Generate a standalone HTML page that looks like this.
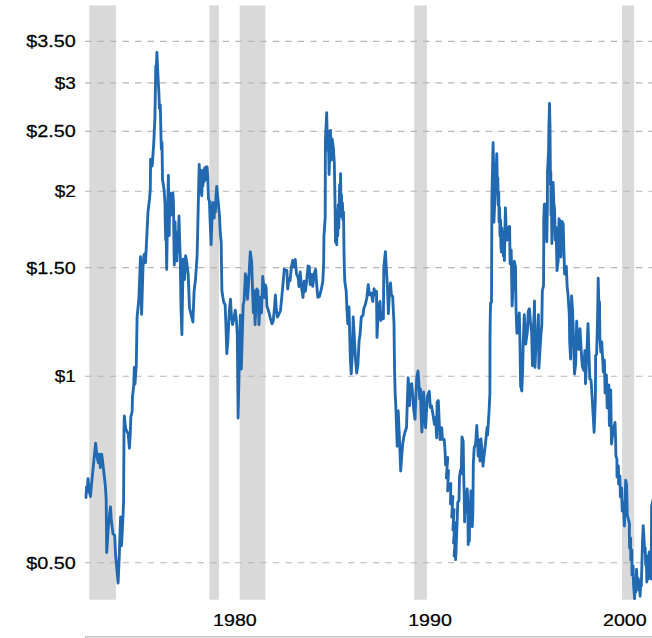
<!DOCTYPE html>
<html><head><meta charset="utf-8"><title>Chart</title>
<style>
html,body{margin:0;padding:0;background:#fff;}
body{width:652px;height:638px;overflow:hidden;font-family:"Liberation Sans",sans-serif;}
svg{display:block;}
</style></head><body>
<svg width="652" height="638" viewBox="0 0 652 638">
<rect x="0" y="0" width="652" height="638" fill="#ffffff"/>
<rect x="89.3" y="5.4" width="26.6" height="594.3" fill="#d9d9d9"/>
<rect x="209.4" y="5.4" width="9.6" height="594.3" fill="#d9d9d9"/>
<rect x="239.7" y="5.4" width="25.7" height="594.3" fill="#d9d9d9"/>
<rect x="414.2" y="5.4" width="12.8" height="594.3" fill="#d9d9d9"/>
<rect x="622.1" y="5.4" width="12.1" height="594.3" fill="#d9d9d9"/>
<line x1="85" y1="41.4" x2="652" y2="41.4" stroke="#b6b6b6" stroke-width="1.1" stroke-dasharray="6.4 6.12"/>
<line x1="85" y1="82.9" x2="652" y2="82.9" stroke="#b6b6b6" stroke-width="1.1" stroke-dasharray="6.4 6.12"/>
<line x1="85" y1="131.4" x2="652" y2="131.4" stroke="#b6b6b6" stroke-width="1.1" stroke-dasharray="6.4 6.12"/>
<line x1="85" y1="191.3" x2="652" y2="191.3" stroke="#b6b6b6" stroke-width="1.1" stroke-dasharray="6.4 6.12"/>
<line x1="85" y1="267.6" x2="652" y2="267.6" stroke="#b6b6b6" stroke-width="1.1" stroke-dasharray="6.4 6.12"/>
<line x1="85" y1="376.3" x2="652" y2="376.3" stroke="#b6b6b6" stroke-width="1.1" stroke-dasharray="6.4 6.12"/>
<line x1="85" y1="562.7" x2="652" y2="562.7" stroke="#b6b6b6" stroke-width="1.1" stroke-dasharray="6.4 6.12"/>
<polyline fill="none" stroke="#2169b1" stroke-width="2.85" stroke-linejoin="round" stroke-linecap="round" points="86.0,497.5 86.5,487 87.2,492 88,478.7 89.3,491.5 90.5,496.5 91.5,484.6 93.5,464.3 95.6,443.1 96.9,455.8 98.3,462.6 99,454.1 100.3,467.7 101.7,454.1 102.8,462.6 103.7,471 105.4,486.3 106.2,500 106.7,552.5 108.4,525.4 110.5,506.8 111.3,520.3 113,533.8 114.7,535.5 115.5,554 118.1,583 119.3,555.8 119.8,539 120.6,517 121.5,545.7 123.0,517 123.6,500 124,430 124.3,416 125.7,428.8 128.2,433.8 129.4,448.2 130.3,433.8 130.8,417 132.1,411.8 132.5,396.4 133.7,386.3 134.3,367.5 135,384 136.3,365 137.1,317 138.8,300 140.5,256.7 141.6,314.4 143.0,267.7 143.8,255.8 144.7,254 145.5,262.6 148,211.8 149.4,200 150.3,189.8 150.6,159.3 152.2,166 153.8,142.4 154.9,118 155.4,89 155.8,66 156.4,67 156.9,52.3 158,76.8 159.0,95.2 159.4,108.5 160.3,105 160.8,128.8 161.3,149 162,142.4 162.5,179.6 164.1,189.8 165,203 165.2,220.3 165.7,240 166.1,228 166.7,269.4 167.2,235 167.6,217 168.0,195 168.4,175.4 168.8,210 169.2,235.5 169.6,205 170.3,193 171.0,215 171.6,196 172.3,212 172.9,193 173.5,203 173.9,240 174.3,265 174.7,236 175.1,222 175.6,246 176.2,232 176.8,261 177.4,240 178.0,252 179,216 179.6,240 180.2,255.8 181,308 181.9,334.7 183.1,259.2 184.5,279.5 185.6,255.8 187,264.3 188.2,274.5 189.5,308 192.9,322 194.1,291.4 195.5,279.5 197.1,255.8 198.0,217.7 198.4,199 199.2,164.4 199.9,182 200.5,170 201.0,190 201.8,195.7 202.3,176 202.9,186 203.5,170 204.0,182 204.6,168 205.2,180 205.8,167 206.5,178 207.1,167 207.7,176 208.5,199 209.4,200.8 210.2,222.8 211.1,244.8 211.9,221 212.6,202.5 213.1,216 213.6,204 214.2,218 214.8,203 215.4,212 216.0,196 216.7,186.4 217.8,197.4 219.5,216 220.4,234.6 221.2,242.2 221.5,265.4 221.9,290.8 222.9,297.5 223.8,302.6 225.1,304.3 225.8,321.2 226.8,353.7 227.8,342 228.8,321.2 229.6,307.7 230.5,299.2 231.4,316.1 232.6,324.6 233.6,319.5 235.3,310.2 236.5,321.2 237.3,334.8 238.1,418 240.3,315.3 241.3,369 243.2,304.3 244.1,301 245.4,273.8 246.6,279 247.5,299.2 248.3,287.4 249.1,273.8 250.3,251.8 251.7,262 252.5,289 253.4,312.8 254.2,290.8 255.1,324.6 255.9,307.7 256.8,289 257.9,290.8 259,324.6 260.1,297.5 261.5,312.8 262.7,276.4 263.5,284 264.4,297.5 265.2,284.8 266.1,287.4 266.9,306 268.6,311 270.3,317.8 272,323.8 273.2,321.2 274.5,307.7 275.4,295 276.2,307.7 277.4,317 278.8,314.5 280.4,311 281.6,299.2 283,284 284.3,268.8 285.5,270.5 286.9,270.5 287.7,289 288.9,279 290.1,280.6 291.4,267 292.8,260.3 294,267 295.3,259.5 296.5,273.8 298.2,278 299,286.5 300.2,272 301.6,288 303,297.3 304.2,281.2 305.4,291.4 306.8,279.5 308.1,266 309.3,266.8 310.2,284.6 311.8,274.5 312.7,286.3 314.4,272.8 315.6,269.4 316.4,281.2 317.8,297.3 319.5,296.4 321.2,289.7 322.8,281.2 323.7,262.6 323.9,237.2 325.2,217 325.4,140.6 326.7,112.7 327.5,150 328.3,131 329.1,174.5 330.5,130.5 331.3,160 332.1,139 333.3,147.4 334.3,162.6 335,199.8 335.3,225 335.5,242.3 336.1,215 336.7,244.8 337.2,210 337.7,236 338.3,205 338.8,228 339.3,200 339.6,184.6 340.1,205 340.6,173.6 341.0,210 341.5,194.8 341.8,217 342.4,203 343.0,220 343.5,212 344,250.8 344.3,267.7 344.8,281.2 346.2,291.4 346.9,308.6 347.8,323.8 349,307 350.3,357.7 351.2,373.8 352.3,354.3 353.2,317 354.5,340.8 355.4,357.7 356.7,373 357.9,364.5 359.1,340.8 360.1,334 361.3,317 363,315.4 363.8,308.6 365.5,304 366.8,298 368.2,284.6 369.4,294.8 371.1,293 372.8,301.5 374.1,288.8 375.3,294.8 376.5,291.4 377,337.4 378.2,312 379.1,305.2 380.0,301.5 380.8,320.5 382.5,312 383.4,318.8 383.8,267.7 385.4,251.6 386.3,267.7 387.1,281.2 388,301.5 388.4,313.7 389.2,298 390.5,283 391.4,294.8 392.7,296.4 393.3,310 394,323.8 394.3,349.2 394.6,371.2 395.1,391.5 396,410.8 397.2,446.3 398.2,410.8 399.5,440 400.7,471 401.8,455 402.8,443 404,436 405.3,431 406.5,427.7 407.3,402.3 408.2,377.8 409.5,405.7 410.4,385.4 411.7,383.7 412.6,393.8 413.8,410.8 415,419.2 416,393.8 416.8,377 418,371 418.8,382 419.7,399 420.5,389 421,410.8 421.9,432 423.1,410.8 423.6,392 424.4,410.8 425.6,427.7 426.5,410.8 427.3,396.4 429.3,391.3 430.3,407.4 431.5,405.7 433.2,415.8 434.4,424.3 435.8,417.5 436.6,437.8 437.1,402.3 438.3,400.6 439.1,419.2 440,439.5 441.7,427.7 442.5,439.5 444.2,439.5 445.1,451.4 445.6,465.0 447.8,457.5 446.3,478.0 448.5,470.5 447.6,491.0 450.8,483.5 450.5,504.0 452.9,496.5 451.7,517.0 454.1,509.5 452.9,530.0 455.0,522.5 453.5,543.0 455.6,535.5 454.1,556.0 456.2,548.5 455.6,559.6 456.9,527.7 457.8,502.3 459,500.6 459.5,477 460.6,470 461.2,473.5 462,437 463.2,441.3 463.6,471.8 464.2,493.8 464.6,521.8 465.2,500 465.6,512 466.1,492 466.7,506 467.2,489 467.8,500 468.2,544.6 468.8,520 469.3,541.2 469.8,510 470.3,524.3 470.9,491 471.4,515 471.8,500 472.3,526.8 472.9,509 473.3,464.4 474.2,447.7 475.6,444 476.8,425.5 477.4,438.5 478.2,456 479,440 480,461 481,439 482,452 483,466.2 483.9,457 485.7,441.3 487.1,427.4 487.6,434.8 489,412 489.9,393.8 490.0,337 490.3,314.6 490.6,302.8 491.5,302.5 491.8,230 491.9,197.7 492.6,165 493.1,142.7 493.6,167.2 493.9,222.2 496.8,153.7 497.4,190 497.8,178 498.2,205 498.7,192 499.1,222 499.6,208 500.0,236 500.5,220 500.9,246 501.4,252 501.9,228 502.4,250 502.9,232 503.4,256 503.9,240 504.4,260.5 505.4,207.8 506.2,231.5 507.1,240 507.9,228 509.6,226.4 510.1,263.8 511.2,250 512.1,306 513.3,280.8 514.3,261.3 515.5,267.2 516,307.8 516.9,333.2 518.1,331.5 519.3,313 520,345 520.6,386 521.8,391 522.6,370.8 523.3,340 524.3,314.6 525.7,344 527.4,331.5 528.3,311 529.4,308.7 530.4,321.4 531.6,331.5 532.5,365.7 533.5,330 534.5,301 535,367.4 536,345 536.7,338 537.5,331.5 538.4,314.6 538.9,368.2 540,350 540.9,335 541.8,324.8 542.3,291 543.5,285.8 543.8,238 543.7,221.4 544.3,204.5 545,204 545.6,236 546.2,215 546.8,241.8 547.4,205 547.5,172 548.6,150 548.9,127 549.5,103.5 550.0,127 550.2,150 550.5,185 550.8,172 551.0,215 551.3,194.3 551.9,243.5 553.1,182.5 553.9,204.5 554.5,208 555.3,240 556.1,227.3 557,270.6 558.2,260.5 559,218.8 560,222 560.9,257 562,221.4 563.2,224 563.8,247 564.6,274 566.3,266.4 567.1,285.8 568,294.3 569.3,314.6 569.7,342 570.6,359 571.6,296 572.5,310 573.1,324.8 574.5,374 575.7,363 576.7,321.2 577.5,344.5 578.7,349.4 580,328.6 581.2,350.7 582.4,366.6 583.7,370.3 584.9,350.7 585.5,383.8 586.7,356.8 588,323.7 588.9,350.7 589.8,378.9 591,380 592.2,398 594.1,432.3 595.4,398 595.6,355.6 596.6,354.4 597.4,326 597.9,299 598.2,278.2 598.7,300.3 599.5,302 599.9,338.4 600.8,352 601.8,342 603.3,372 604.4,360 605.1,393 606.4,375 607.2,408 608.8,385 609.4,425.6 610.7,390 611.5,444 613.1,430.5 615,422.5 615.6,439 615.9,456.3 616.9,458.7 617.0,477 618.4,466 618.6,484 619.9,476 620.4,497 621.6,488 622.2,511 623.3,503 624.4,526 625.7,480.3 626.6,485 627.3,515 629.5,524 629.3,530 629.6,548 630.6,538 630.8,560 631.8,550 632,575 633,566 633.6,585 634.6,598.7 635.3,580 635.9,592 636.5,569.3 637.3,588 638,578 638.8,590 639.4,582 640.1,596.3 640.9,580 641.3,586 641.9,564.4 642.5,542.3 643.2,525.6 644.0,538 644.6,551 645.2,548 645.7,565 646.3,556 646.8,582 647.5,560 648.1,579 648.7,556 649.3,552 649.9,570 650.5,554.5 651.0,579 651.4,540 651.6,506 653,500"/>
<text transform="translate(75.8,47.3) scale(1.145,1)" text-anchor="end" font-family="'Liberation Sans', sans-serif" font-size="17.3" stroke="#000" stroke-width="0.25" fill="#000">$3.50</text>
<text transform="translate(75.8,88.8) scale(1.1,1)" text-anchor="end" font-family="'Liberation Sans', sans-serif" font-size="17.3" stroke="#000" stroke-width="0.25" fill="#000">$3</text>
<text transform="translate(75.8,137.3) scale(1.145,1)" text-anchor="end" font-family="'Liberation Sans', sans-serif" font-size="17.3" stroke="#000" stroke-width="0.25" fill="#000">$2.50</text>
<text transform="translate(75.8,197.2) scale(1.1,1)" text-anchor="end" font-family="'Liberation Sans', sans-serif" font-size="17.3" stroke="#000" stroke-width="0.25" fill="#000">$2</text>
<text transform="translate(75.8,273.5) scale(1.145,1)" text-anchor="end" font-family="'Liberation Sans', sans-serif" font-size="17.3" stroke="#000" stroke-width="0.25" fill="#000">$1.50</text>
<text transform="translate(75.8,382.2) scale(1.1,1)" text-anchor="end" font-family="'Liberation Sans', sans-serif" font-size="17.3" stroke="#000" stroke-width="0.25" fill="#000">$1</text>
<text transform="translate(75.8,568.6) scale(1.145,1)" text-anchor="end" font-family="'Liberation Sans', sans-serif" font-size="17.3" stroke="#000" stroke-width="0.25" fill="#000">$0.50</text>
<text transform="translate(213.1,625.7) scale(1.135,1)" font-family="'Liberation Sans', sans-serif" font-size="17.3" stroke="#000" stroke-width="0.25" fill="#000">1980</text>
<text transform="translate(408.2,625.7) scale(1.135,1)" font-family="'Liberation Sans', sans-serif" font-size="17.3" stroke="#000" stroke-width="0.25" fill="#000">1990</text>
<text transform="translate(603.0,625.7) scale(1.135,1)" font-family="'Liberation Sans', sans-serif" font-size="17.3" stroke="#000" stroke-width="0.25" fill="#000">2000</text>
<rect x="85" y="636" width="567" height="2" fill="#e4e4e4"/>
<rect x="85" y="636" width="567" height="1" fill="#c2c2c2"/>
<rect x="85" y="636" width="1" height="2" fill="#c2c2c2"/>
</svg>
</body></html>
